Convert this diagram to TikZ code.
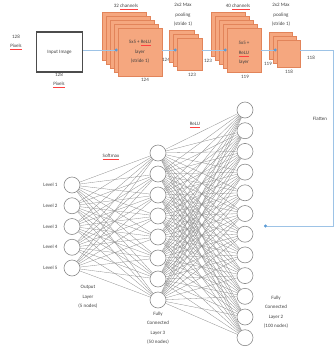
\documentclass[tikz,border=0pt]{standalone}
\usepackage{fontspec}
\setmainfont{Carlito}
\usetikzlibrary{positioning,arrows.meta,calc}
\definecolor{layerfill}{HTML}{F5A77F}
\definecolor{layerdraw}{HTML}{E2845A}
\definecolor{flowblue}{HTML}{9DC3E6}
\definecolor{flowdot}{HTML}{5B9BD5}
\definecolor{txtgray}{HTML}{404040}
\newcommand{\spellmark}[1]{{\color{red!75}\underline{\textcolor{txtgray}{#1}}}}

\tikzset{
  lbl/.style={font=\fontsize{5}{9.5}\selectfont, text=txtgray, align=center, inner sep=0pt},
  inbox/.style={rectangle, draw=black!70, line width=1.4pt, fill=white, minimum width=46pt, minimum height=40pt},
  fmap/.style={rectangle, fill=layerfill, draw=layerdraw, line width=0.5pt, inner sep=0pt},
  neuron/.style={circle, draw=black!45, line width=0.6pt, fill=white, minimum size=16pt, inner sep=0pt},
  flow/.style={draw=flowblue, line width=0.8pt, -{Circle[length=3pt,color=flowdot]}},
  wire/.style={draw=black!45, line width=0.3pt}
}

\begin{document}
\begin{tikzpicture}[x=1pt,y=-1pt]
\useasboundingbox (0,0) rectangle (335,354);
\coordinate (rowy) at (0,50);
\coordinate (turn) at (333,50);
\coordinate (flatin) at (264,226);

% input image
\node[inbox, lbl, minimum width=46pt, minimum height=40pt] (inp) at (59.5,52) {Input Image};
\node[lbl] (inpH) at (16,42.5) {128\\\spellmark{Pixels}};
\node[lbl] (inpW) at (59,80.5) {128\\\spellmark{Pixels}};

% conv 1
\foreach \k in {4,3,2,1}
  \node[fmap, minimum width=44pt, minimum height=48pt] (c1b\k) at ({140-4*\k},{52-4*\k}) {};
\node[fmap, lbl, minimum width=44pt, minimum height=48pt] (c1) at (140,52) {5x5 + \spellmark{ReLU}\\layer\\(stride 1)};
\node[lbl] (c1ch) at (126,7) {32 \spellmark{channels}};
\node[lbl] (c1H) at (166,60) {124};
\node[lbl] (c1W) at (145,80) {124};

% pool 1
\foreach \k in {2,1}
  \node[fmap, minimum width=25pt, minimum height=32pt] (p1b\k) at ({189.5-4*\k},{54-4*\k}) {};
\node[fmap, minimum width=25pt, minimum height=32pt] (p1) at (189.5,54) {};
\node[lbl] (p1t) at (183,15) {2x2 Max\\pooling\\(stride 1)};
\node[lbl] (p1H) at (208,61) {123};
\node[lbl] (p1W) at (192,75) {123};

% conv 2
\foreach \k in {4,3,2,1}
  \node[fmap, minimum width=34pt, minimum height=44pt] (c2b\k) at ({244-4*\k},{50-4*\k}) {};
\node[fmap, lbl, minimum width=34pt, minimum height=44pt] (c2) at (244,50) {\\5x5 +\\\spellmark{ReLU}\\layer};
\node[lbl] (c2ch) at (238,7) {40 \spellmark{channels}};
\node[lbl] (c2H) at (268,64) {119};
\node[lbl] (c2W) at (245,77) {119};

% pool 2
\foreach \k in {2,1}
  \node[fmap, minimum width=23pt, minimum height=27pt] (p2b\k) at ({288.5-4*\k},{53.5-4*\k}) {};
\node[fmap, minimum width=23pt, minimum height=27pt] (p2) at (288.5,53.5) {};
\node[lbl] (p2t) at (281,15) {2x2 Max\\pooling\\(stride 1)};
\node[lbl] (p2H) at (311,58) {118};
\node[lbl] (p2W) at (289,72) {118};

% flow line
\draw[flow] (inp.east |- rowy) -- (c1.west |- rowy);
\draw[flow] (c1.east |- rowy) -- (p1.west |- rowy);
\draw[flow] (p1.east |- rowy) -- (c2.west |- rowy);
\draw[flow] (c2.east |- rowy) -- (p2.west |- rowy);
\draw[flow] (p2.east |- rowy) -- (turn) |- (flatin);
\node[lbl] (flat) at (320,119) {Flatten};

% network
\foreach \i in {1,...,5}
  \node[neuron] (o\i) at (72,{185+20.75*(\i-1)}) {};
\foreach \i in {1,...,8}
  \node[neuron] (m\i) at (158,{153+21*(\i-1)}) {};
\foreach \i in {1,...,12}
  \node[neuron] (f\i) at (245,{110+20.7*(\i-1)}) {};
\foreach \i in {1,...,5}
  \foreach \j in {1,...,8}
    \draw[wire] (o\i) -- (m\j);
\foreach \i in {1,...,8}
  \foreach \j in {1,...,12}
    \draw[wire] (m\i) -- (f\j);
\foreach \i in {1,...,5}
  \node[lbl, left=6pt of o\i] (lv\i) {Level \i};

\node[lbl] (smx) at (111,157) {\spellmark{Softmax}};
\node[lbl] (relu) at (195,125) {\spellmark{ReLU}};
\node[lbl] (outcap) at (88,297) {Output\\Layer\\(5 nodes)};
\node[lbl] (midcap) at (158,328) {Fully\\Connected\\Layer 3\\(50 nodes)};
\node[lbl] (fc2cap) at (276,312) {Fully\\Connected\\Layer 2\\(100 nodes)};
\end{tikzpicture}
\end{document}
